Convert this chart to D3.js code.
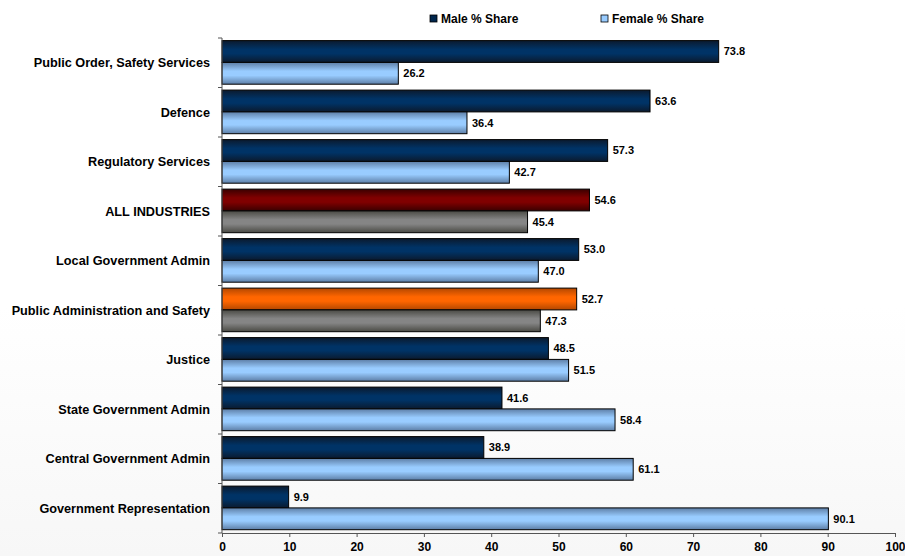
<!DOCTYPE html>
<html><head><meta charset="utf-8">
<script src="https://cdn.jsdelivr.net/npm/d3@7"></script>
<style>
body{margin:0;background:#fff;}
svg{display:block;font-family:"Liberation Sans",Arial,sans-serif;}
</style></head>
<body><svg id="c" width="905" height="556"></svg>
<script>
const categories = ["Public Order, Safety Services","Defence","Regulatory Services","ALL INDUSTRIES","Local Government Admin","Public Administration and Safety","Justice","State Government Admin","Central Government Admin","Government Representation"];
const maleShare = [73.8,63.6,57.3,54.6,53.0,52.7,48.5,41.6,38.9,9.9];
const femaleShare = [26.2,36.4,42.7,45.4,47.0,47.3,51.5,58.4,61.1,90.1];
const seriesNames = ["Male % Share","Female % Share"];
const xTicks = [0,10,20,30,40,50,60,70,80,90,100];

const svg = d3.select("#c");
const W = 905, H = 556;
const x = d3.scaleLinear().domain([0,100]).range([222,895]);
const y = d3.scaleBand().domain(categories).range([38,533]).paddingInner(0).paddingOuter(0);

const defs = svg.append("defs");
function grad(id, edge, mid){
  const g = defs.append("linearGradient").attr("id",id).attr("x1",0).attr("y1",0).attr("x2",0).attr("y2",1);
  g.append("stop").attr("offset","0%").attr("stop-color",edge);
  g.append("stop").attr("offset","40%").attr("stop-color",mid);
  g.append("stop").attr("offset","60%").attr("stop-color",mid);
  g.append("stop").attr("offset","100%").attr("stop-color",edge);
}
grad("gMale","#0b1a2e","#003366");
grad("gFemale","#5d7ea6","#99ccff");
grad("gRed","#3a0000","#800000");
grad("gGray","#4a4a44","#858585");
grad("gOrange","#b34700","#ff6600");

const bg = defs.append("linearGradient").attr("id","bg").attr("x1",0).attr("y1",0).attr("x2",0).attr("y2",1);
bg.append("stop").attr("offset","0%").attr("stop-color","#ffffff");
bg.append("stop").attr("offset","55%").attr("stop-color","#ffffff");
bg.append("stop").attr("offset","100%").attr("stop-color","#f7f7f7");
svg.append("rect").attr("width",W).attr("height",H).attr("fill","url(#bg)");

function maleFill(c){ return c==="ALL INDUSTRIES"?"url(#gRed)":(c==="Public Administration and Safety"?"url(#gOrange)":"url(#gMale)"); }
function femaleFill(c){ return (c==="ALL INDUSTRIES"||c==="Public Administration and Safety")?"url(#gGray)":"url(#gFemale)"; }

const barH = 21.8, off = 2.6;
const g = svg.append("g");
categories.forEach((c,i)=>{
  const y0 = y(c)+off;
  g.append("rect").attr("x",x(0)).attr("y",y0).attr("width",x(maleShare[i])-x(0)).attr("height",barH)
    .attr("fill",maleFill(c)).attr("stroke","#000").attr("stroke-width",1);
  g.append("rect").attr("x",x(0)).attr("y",y0+barH).attr("width",x(femaleShare[i])-x(0)).attr("height",barH)
    .attr("fill",femaleFill(c)).attr("stroke","#000").attr("stroke-width",1);
  g.append("text").attr("x",x(maleShare[i])+5).attr("y",y0+barH/2).attr("dy","0.35em")
    .attr("font-size",11).attr("font-weight","bold").attr("fill","#000").text(maleShare[i].toFixed(1));
  g.append("text").attr("x",x(femaleShare[i])+5).attr("y",y0+barH*1.5).attr("dy","0.35em")
    .attr("font-size",11).attr("font-weight","bold").attr("fill","#000").text(femaleShare[i].toFixed(1));
});

const ya = svg.append("g");
ya.append("line").attr("x1",222).attr("x2",222).attr("y1",38).attr("y2",533).attr("stroke","#555");
const bounds = categories.map(c=>y(c)).concat([533]);
bounds.forEach(b=>ya.append("line").attr("x1",218).attr("x2",222).attr("y1",b).attr("y2",b).attr("stroke","#555"));
categories.forEach(c=>{
  ya.append("text").attr("x",210).attr("y",y(c)+y.bandwidth()/2).attr("dy","0.35em")
    .attr("text-anchor","end").attr("font-size",12.7).attr("font-weight","bold").attr("fill","#000").text(c);
});

const xa = svg.append("g").attr("transform","translate(0,533)")
  .call(d3.axisBottom(x).tickValues(xTicks).tickSize(4).tickPadding(5).tickFormat(d3.format("d")));
xa.select(".domain").attr("stroke","#555");
xa.selectAll(".tick line").attr("stroke","#555");
xa.selectAll(".tick text").attr("font-size",12).attr("font-weight","bold").attr("fill","#000")
  .attr("font-family","'Liberation Sans',Arial,sans-serif");

const legend = svg.append("g");
const legItems = [{name:seriesNames[0],fill:"#00264d",x:430},{name:seriesNames[1],fill:"#99ccff",x:601}];
legItems.forEach(it=>{
  legend.append("rect").attr("x",it.x).attr("y",15).attr("width",7).attr("height",7).attr("fill",it.fill).attr("stroke","#000").attr("stroke-width",0.8);
  legend.append("text").attr("x",it.x+11).attr("y",18.5).attr("dy","0.35em").attr("font-size",12).attr("font-weight","bold").attr("fill","#000").text(it.name);
});
</script></body></html>
